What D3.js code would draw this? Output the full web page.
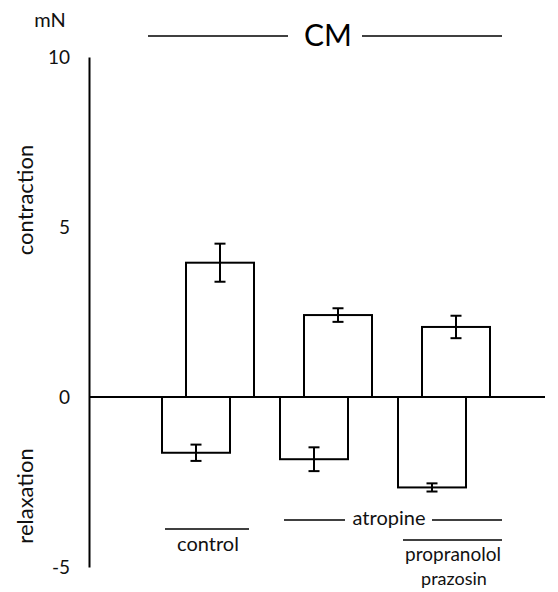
<!DOCTYPE html>
<html>
<head>
<meta charset="utf-8">
<script src="https://cdn.jsdelivr.net/npm/d3@7"></script>
<style>
  html, body { margin: 0; padding: 0; background: #fff; }
  svg { display: block; font-family: Lato, "Open Sans", sans-serif; }
</style>
</head>
<body>
<svg id="chart" width="558" height="592"></svg>
<script>
const groups = ["control", "atropine", "atropine+propranolol+prazosin"];
const contraction = [3.95, 2.41, 2.06];
const contractionErr = [0.56, 0.20, 0.33];
const relaxation = [-1.64, -1.83, -2.66];
const relaxationErr = [0.24, 0.35, 0.12];
const yTicks = [10, 5, 0, -5];
const title = "CM";
const unitLabel = "mN";

const svg = d3.select("#chart");
const y = d3.scaleLinear().domain([-5, 10]).range([567, 57]);
const x = d3.scaleBand().domain(groups).range([162, 516]);
const barW = 68, shift = 24, capW = 11;

// Y axis
const axis = d3.axisLeft(y).tickValues(yTicks).tickSize(0).tickPadding(19).tickFormat(d => String(d));
const gAxis = svg.append("g").attr("transform", "translate(89,0)").call(axis);
gAxis.select(".domain").attr("stroke", "#000").attr("stroke-width", 2);
gAxis.selectAll("text").attr("font-size", 19).attr("font-family", "Lato, sans-serif").attr("fill", "#111");

// zero line
svg.append("line").attr("x1", 89).attr("x2", 545).attr("y1", y(0)).attr("y2", y(0))
  .attr("stroke", "#000").attr("stroke-width", 2);

// bars
const data = groups.map((g, i) => ({g, c: contraction[i], ce: contractionErr[i], r: relaxation[i], re: relaxationErr[i]}));

function drawBars(key, errKey, off) {
  svg.append("g").selectAll("rect").data(data).join("rect")
    .attr("x", d => x(d.g) + off)
    .attr("width", barW)
    .attr("y", d => y(Math.max(0, d[key])))
    .attr("height", d => Math.abs(y(d[key]) - y(0)))
    .attr("fill", "none").attr("stroke", "#000").attr("stroke-width", 2);
  const eg = svg.append("g").attr("stroke", "#000").attr("stroke-width", 2);
  data.forEach(d => {
    const cx = x(d.g) + off + barW / 2;
    const y1 = y(d[key] + d[errKey]), y2 = y(d[key] - d[errKey]);
    eg.append("line").attr("x1", cx).attr("x2", cx).attr("y1", y1).attr("y2", y2);
    eg.append("line").attr("x1", cx - capW/2).attr("x2", cx + capW/2).attr("y1", y1).attr("y2", y1);
    eg.append("line").attr("x1", cx - capW/2).attr("x2", cx + capW/2).attr("y1", y2).attr("y2", y2);
  });
}
drawBars("r", "re", 0);
drawBars("c", "ce", shift);

// title
svg.append("text").attr("x", 328).attr("y", 46).attr("text-anchor", "middle")
  .attr("font-size", 30).attr("fill", "#000").text(title);
svg.append("line").attr("x1", 148).attr("x2", 288).attr("y1", 36).attr("y2", 36).attr("stroke", "#000").attr("stroke-width", 1.3);
svg.append("line").attr("x1", 362).attr("x2", 502).attr("y1", 36).attr("y2", 36).attr("stroke", "#000").attr("stroke-width", 1.3);

// unit
svg.append("text").attr("x", 50).attr("y", 27).attr("text-anchor", "middle")
  .attr("font-size", 20).attr("fill", "#111").text(unitLabel);

// y side labels
svg.append("text").attr("transform", "translate(33,200) rotate(-90)").attr("text-anchor", "middle")
  .attr("font-size", 22).attr("fill", "#111").text("contraction");
svg.append("text").attr("transform", "translate(33,496) rotate(-90)").attr("text-anchor", "middle")
  .attr("font-size", 22).attr("fill", "#111").text("relaxation");

// bottom labels
const lbl = svg.append("g").attr("font-size", 20).attr("fill", "#111").attr("text-anchor", "middle");
const ln = svg.append("g").attr("stroke", "#000").attr("stroke-width", 1.3);
ln.append("line").attr("x1", 165).attr("x2", 249).attr("y1", 529).attr("y2", 529);
lbl.append("text").attr("x", 208).attr("y", 551).text("control");
ln.append("line").attr("x1", 284).attr("x2", 345).attr("y1", 520).attr("y2", 520);
ln.append("line").attr("x1", 432).attr("x2", 502).attr("y1", 520).attr("y2", 520);
lbl.append("text").attr("x", 389).attr("y", 525).text("atropine");
ln.append("line").attr("x1", 403).attr("x2", 502).attr("y1", 540).attr("y2", 540);
lbl.append("text").attr("x", 453).attr("y", 561).attr("font-size", 19).text("propranolol");
lbl.append("text").attr("x", 454).attr("y", 585).attr("font-size", 18).text("prazosin");
</script>
</body>
</html>
